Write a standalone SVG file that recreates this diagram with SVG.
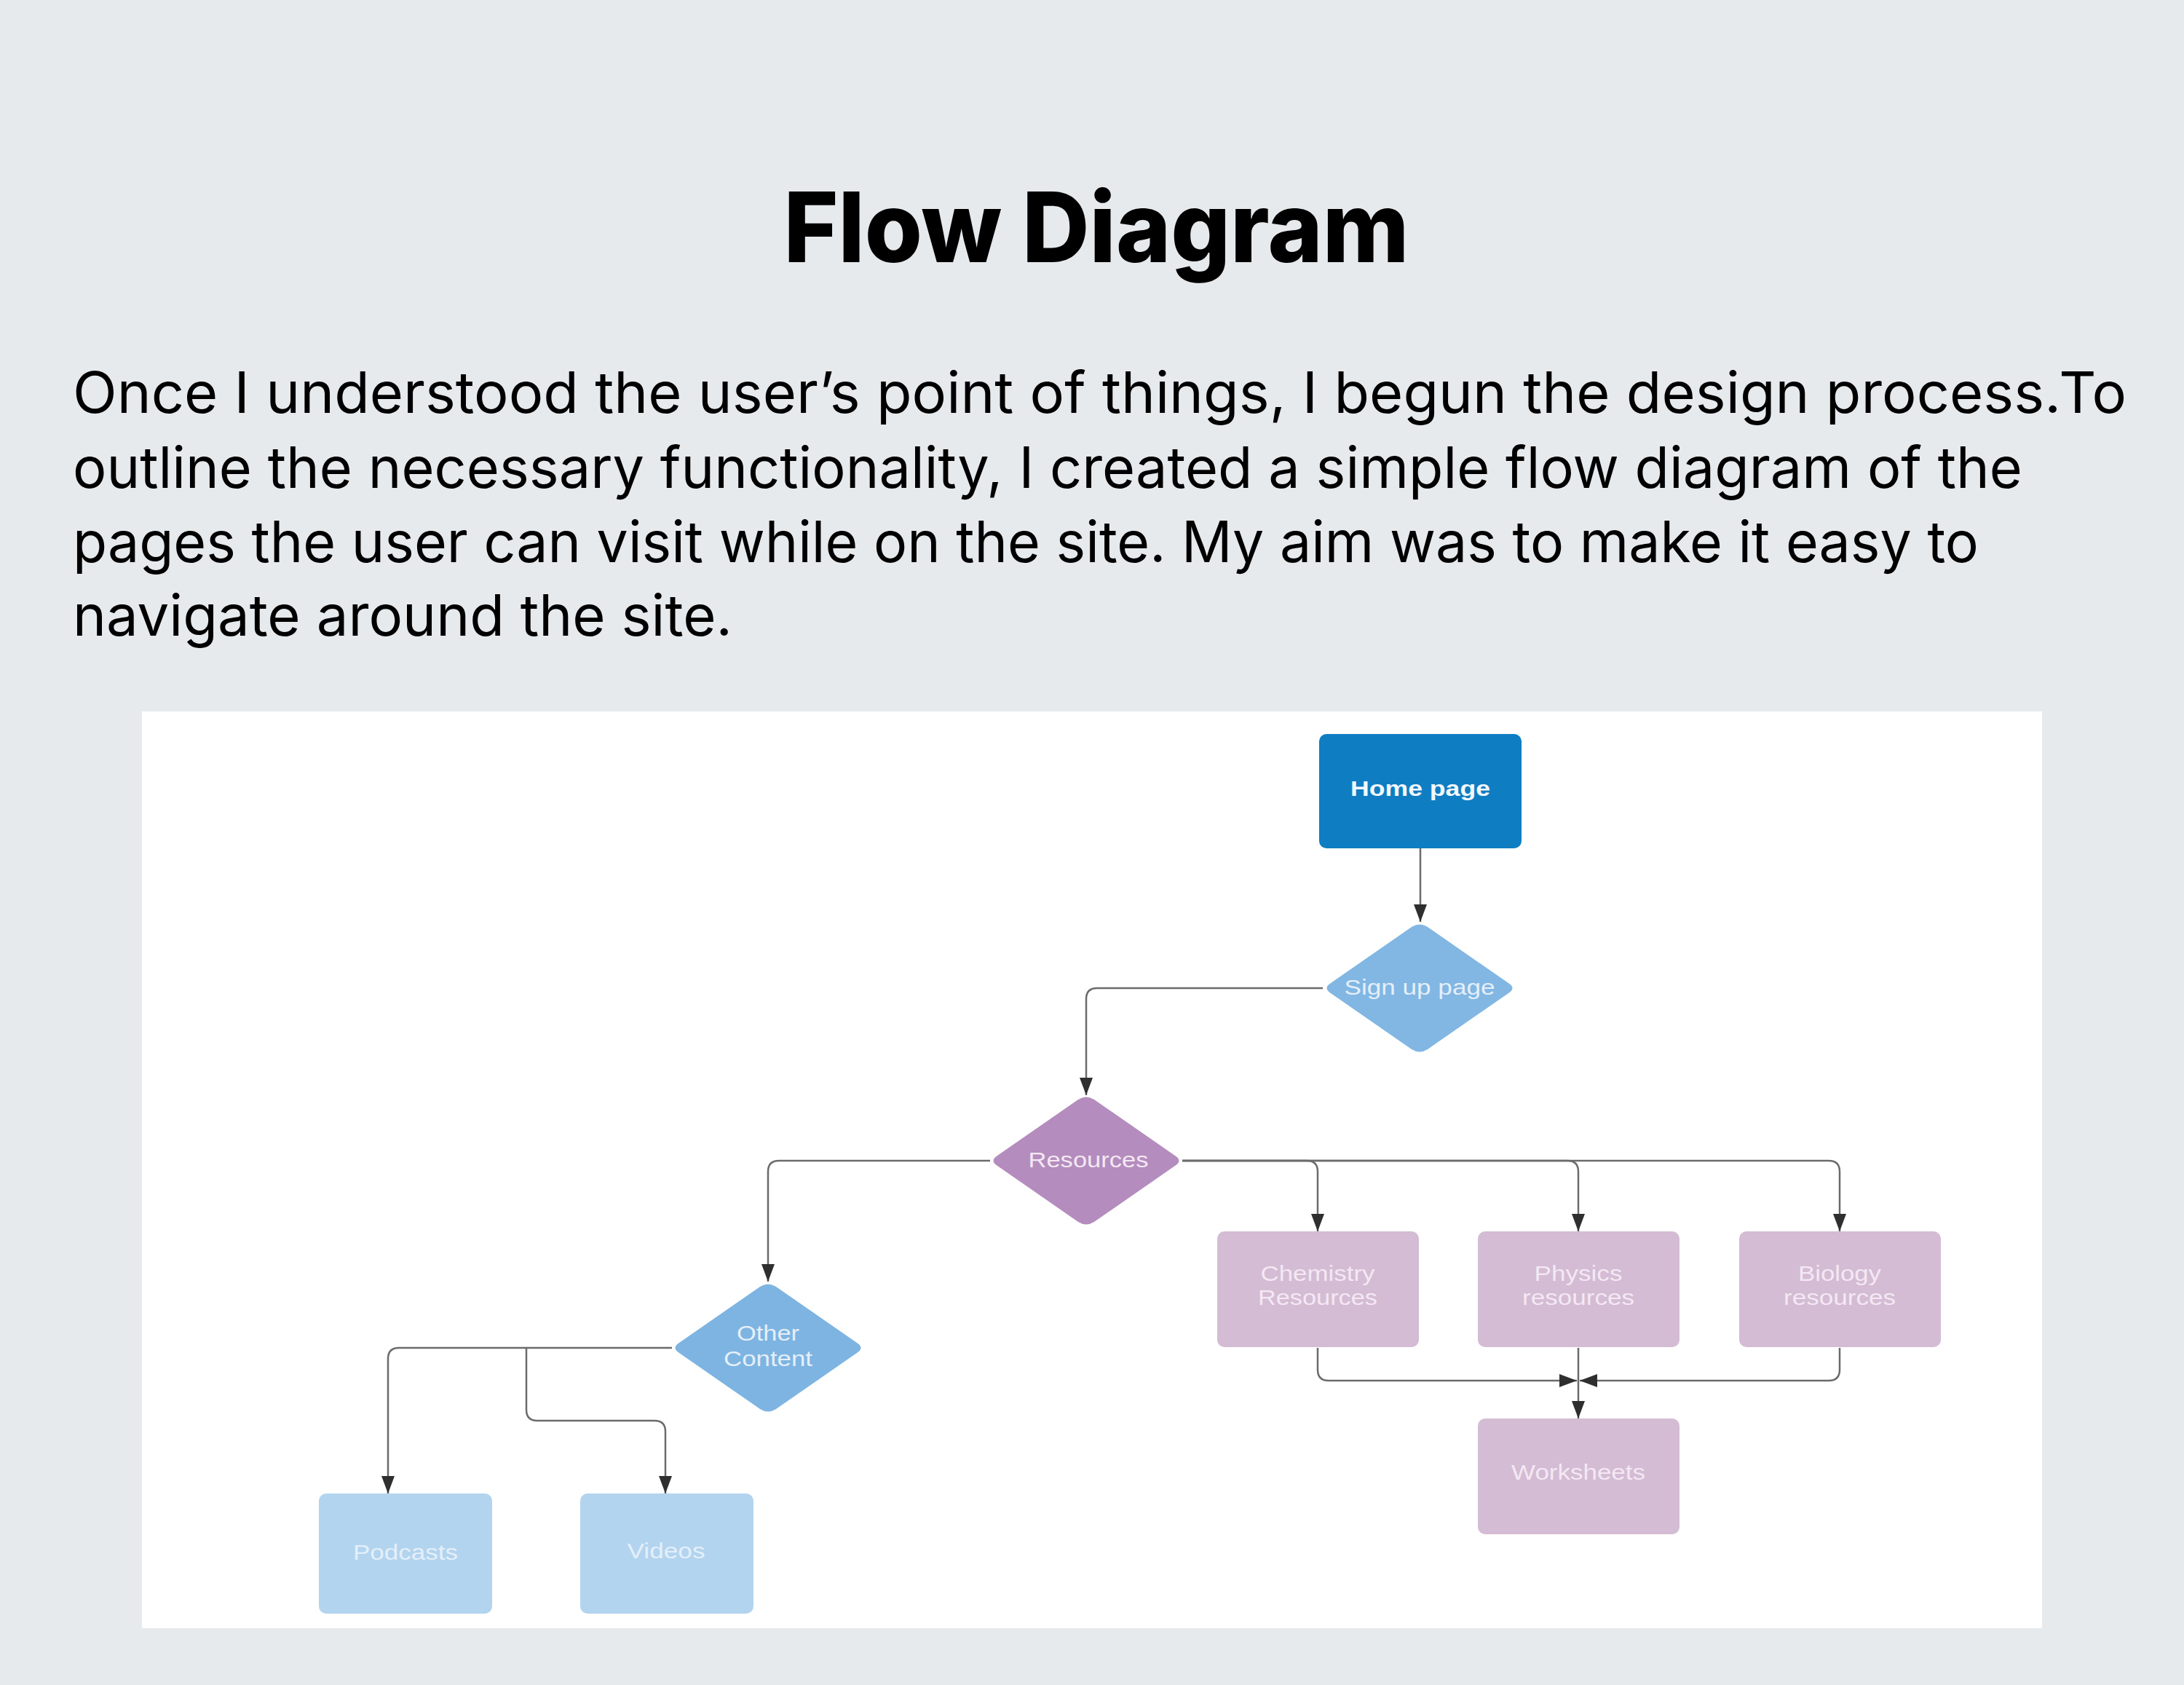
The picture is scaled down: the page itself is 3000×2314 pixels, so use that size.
<svg xmlns="http://www.w3.org/2000/svg" xmlns:xlink="http://www.w3.org/1999/xlink" width="3000" height="2314" viewBox="0 0 3000 2314">
  <style>
    .title { font-family: Inter, "Liberation Sans", sans-serif; font-weight: 800; font-size: 133px; fill: #000; }
    .para { font-family: Inter, "Liberation Sans", sans-serif; font-size: 78px; fill: #000; }
    .lbl { font-family: "Liberation Sans", Arial, sans-serif; font-size: 29px; text-anchor: middle; }
    .lbl-home { fill: #f2f8fc; font-weight: bold; font-size: 30px; }
    .lbl-blue { fill: #e4eff9; }
    .lbl-purple { fill: #f3e8f3; }
    .conn { fill: none; stroke: #6b6b6b; stroke-width: 2.5; marker-end: url(#arrow); }
    .box { stroke: none; }
  </style>
  <defs>
    <marker id="arrow" markerUnits="userSpaceOnUse" markerWidth="26" markerHeight="20" refX="24" refY="9" orient="auto">
      <path d="M0,0 L24,9 L0,18 Z" fill="#2f2f2f"/>
    </marker>
    <path id="dia" d="M-11 -84 Q0 -91 11 -84 L122 -7 Q133 0 122 7 L11 84 Q0 91 -11 84 L-122 7 Q-133 0 -122 -7 Z"/>
  </defs>

  <rect x="0" y="0" width="3000" height="2314" fill="#e7eaed"/>

  <text class="title" x="1506" y="360" text-anchor="middle" textLength="859" lengthAdjust="spacingAndGlyphs">Flow Diagram</text>

  <text class="para" x="100" y="567" textLength="2821" lengthAdjust="spacingAndGlyphs">Once I understood the user’s point of things, I begun the design process.To</text>
  <text class="para" x="100" y="670" textLength="2678" lengthAdjust="spacingAndGlyphs">outline the necessary functionality, I created a simple flow diagram of the</text>
  <text class="para" x="100" y="772" textLength="2618" lengthAdjust="spacingAndGlyphs">pages the user can visit while on the site. My aim was to make it easy to</text>
  <text class="para" x="100" y="873" textLength="906" lengthAdjust="spacingAndGlyphs">navigate around the site.</text>

  <rect x="195" y="977" width="2610" height="1259" fill="#ffffff"/>

  <g id="connectors">
    <path class="conn" d="M1951 1165 V1266"/>
    <path class="conn" d="M1817 1357 H1507 Q1492 1357 1492 1372 V1504"/>
    <path class="conn" d="M1624 1594 H1795 Q1810 1594 1810 1609 V1691"/>
    <path class="conn" d="M1624 1594 H2153 Q2168 1594 2168 1609 V1691"/>
    <path class="conn" d="M1624 1594 H2512 Q2527 1594 2527 1609 V1691"/>
    <path class="conn" d="M1360 1594 H1070 Q1055 1594 1055 1609 V1760"/>
    <path class="conn" d="M923 1851 H548 Q533 1851 533 1866 V2051"/>
    <path class="conn" d="M723 1851 V1936 Q723 1951 738 1951 H899 Q914 1951 914 1966 V2051"/>
    <path class="conn" d="M1810 1851 V1881 Q1810 1896 1825 1896 H2166"/>
    <path class="conn" d="M2527 1851 V1881 Q2527 1896 2512 1896 H2170"/>
    <path class="conn" d="M2168 1851 V1948"/>
  </g>

  <g id="home">
    <rect class="box" x="1812" y="1008" width="278" height="157" rx="10" fill="#0f7dc2"/>
    <text class="lbl lbl-home" x="1951" y="1093" textLength="192" lengthAdjust="spacingAndGlyphs">Home page</text>
  </g>

  <g id="signup">
    <use href="#dia" xlink:href="#dia" transform="translate(1950,1357)" fill="#82b7e4"/>
    <text class="lbl lbl-blue" x="1950" y="1366" textLength="207" lengthAdjust="spacingAndGlyphs">Sign up page</text>
  </g>

  <g id="resources">
    <use href="#dia" xlink:href="#dia" transform="translate(1492,1594)" fill="#b48dbe"/>
    <text class="lbl lbl-purple" x="1495" y="1603" textLength="165" lengthAdjust="spacingAndGlyphs">Resources</text>
  </g>

  <g id="other-content">
    <use href="#dia" xlink:href="#dia" transform="translate(1055,1851)" fill="#7db4e2"/>
    <text class="lbl lbl-blue" x="1055" y="1841" textLength="86" lengthAdjust="spacingAndGlyphs">Other</text>
    <text class="lbl lbl-blue" x="1055" y="1876" textLength="122" lengthAdjust="spacingAndGlyphs">Content</text>
  </g>

  <g id="chemistry">
    <rect class="box" x="1672" y="1691" width="277" height="159" rx="10" fill="#d3bcd4"/>
    <text class="lbl lbl-purple" x="1810" y="1759" textLength="157" lengthAdjust="spacingAndGlyphs">Chemistry</text>
    <text class="lbl lbl-purple" x="1810" y="1792" textLength="164" lengthAdjust="spacingAndGlyphs">Resources</text>
  </g>

  <g id="physics">
    <rect class="box" x="2030" y="1691" width="277" height="159" rx="10" fill="#d3bcd4"/>
    <text class="lbl lbl-purple" x="2168" y="1759" textLength="121" lengthAdjust="spacingAndGlyphs">Physics</text>
    <text class="lbl lbl-purple" x="2168" y="1792" textLength="154" lengthAdjust="spacingAndGlyphs">resources</text>
  </g>

  <g id="biology">
    <rect class="box" x="2389" y="1691" width="277" height="159" rx="10" fill="#d3bcd4"/>
    <text class="lbl lbl-purple" x="2527" y="1759" textLength="114" lengthAdjust="spacingAndGlyphs">Biology</text>
    <text class="lbl lbl-purple" x="2527" y="1792" textLength="154" lengthAdjust="spacingAndGlyphs">resources</text>
  </g>

  <g id="worksheets">
    <rect class="box" x="2030" y="1948" width="277" height="159" rx="10" fill="#d3bcd4"/>
    <text class="lbl lbl-purple" x="2168" y="2032" textLength="184" lengthAdjust="spacingAndGlyphs">Worksheets</text>
  </g>

  <g id="podcasts">
    <rect class="box" x="438" y="2051" width="238" height="165" rx="10" fill="#b2d4ef"/>
    <text class="lbl lbl-blue" x="557" y="2142" textLength="144" lengthAdjust="spacingAndGlyphs">Podcasts</text>
  </g>

  <g id="videos">
    <rect class="box" x="797" y="2051" width="238" height="165" rx="10" fill="#b2d4ef"/>
    <text class="lbl lbl-blue" x="915" y="2140" textLength="107" lengthAdjust="spacingAndGlyphs">Videos</text>
  </g>
</svg>
